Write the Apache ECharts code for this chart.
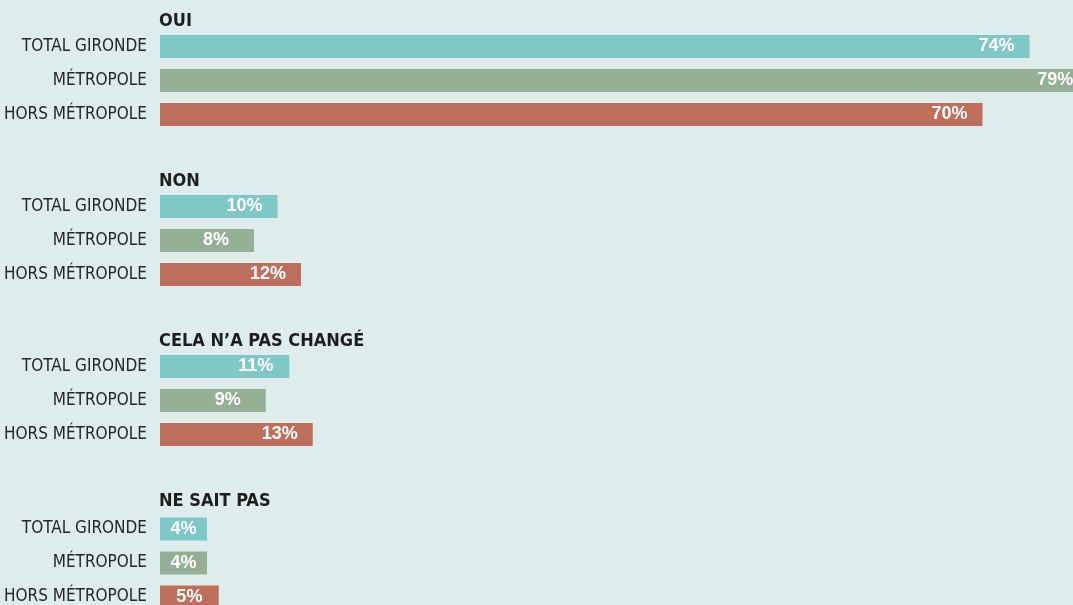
<!DOCTYPE html>
<html>
<head>
<meta charset="utf-8">
<script src="https://cdn.jsdelivr.net/npm/echarts@6/dist/echarts.min.js"></script>
<style>
  html, body { margin: 0; padding: 0; background: #dfecec; }
  #chart { width: 1073px; height: 605px; }
</style>
</head>
<body>
<div id="chart"></div>
<script>
// Survey answers, in percent, by area
const questions = ['OUI', 'NON', 'CELA N’A PAS CHANGÉ', 'NE SAIT PAS'];
const areas = ['TOTAL GIRONDE', 'MÉTROPOLE', 'HORS MÉTROPOLE'];
const oui = [74, 79, 70];
const non = [10, 8, 12];
const inchange = [11, 9, 13];
const nsp = [4, 4, 5];
const answers = [oui, non, inchange, nsp];

const areaColors = ['#7ec8c5', '#95af95', '#bd6f5b'];
const condensed = '"Liberation Sans Narrow", "DejaVu Sans Condensed", "Roboto", sans-serif';
const plain = '"Liberation Sans", Arial, sans-serif';

const rowH = 34;
const gridTops = [29.5, 189.5, 349.5, 512];

const grids = [], xAxes = [], yAxes = [], series = [], titles = [];
answers.forEach((vals, g) => {
  grids.push({
    left: 160, top: gridTops[g], width: 1175, height: rowH * areas.length,
    outerBoundsMode: 'none', containLabel: false
  });
  xAxes.push({
    gridIndex: g, type: 'value', min: 0, max: 100, show: false
  });
  yAxes.push({
    gridIndex: g, type: 'category', data: areas, inverse: true,
    axisLine: { show: false }, axisTick: { show: false }, splitLine: { show: false },
    axisLabel: { margin: 13, color: '#262626', fontSize: 17, fontFamily: condensed }
  });
  titles.push({
    text: questions[g], left: 159, top: gridTops[g] - 8 - 10 - (g === 3 ? 3 : 0), padding: 0,
    textStyle: { fontSize: 18, lineHeight: 20, fontWeight: 'bold', color: '#1e1e1e', fontFamily: condensed }
  });
  series.push({
    type: 'bar', xAxisIndex: g, yAxisIndex: g, barWidth: 23,
    data: vals.map(v => v < 6
      ? { value: v, label: { position: 'inside', align: 'center' } }
      : { value: v }),
    itemStyle: { color: p => areaColors[p.dataIndex] },
    label: {
      show: true, position: 'insideRight', align: 'left', distance: 51,
      formatter: '{c}%', color: '#ffffff', fontSize: 18, fontWeight: 'bold', fontFamily: plain
    },
    silent: true, animation: false
  });
});

const chart = echarts.init(document.getElementById('chart'));
chart.setOption({
  backgroundColor: '#dfecec',
  animation: false,
  title: titles,
  grid: grids,
  xAxis: xAxes,
  yAxis: yAxes,
  series: series
});
</script>
</body>
</html>
